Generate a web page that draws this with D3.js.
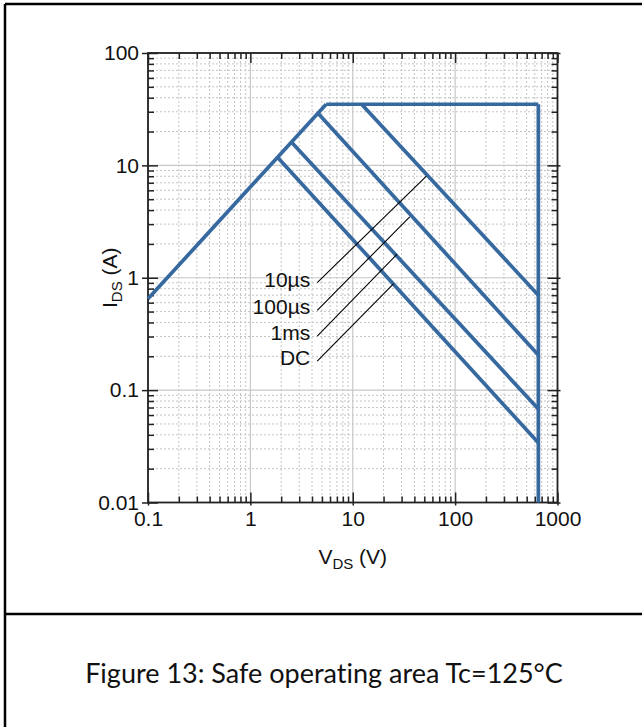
<!DOCTYPE html>
<html>
<head>
<meta charset="utf-8">
<script src="https://cdn.jsdelivr.net/npm/d3@7"></script>
<style>
  body { margin: 0; background: #fff; }
  svg { display: block; }
</style>
</head>
<body>
<script>
// axis ranges and tick labels
const xDomain = [0.1, 1000];
const yDomain = [0.01, 100];
const xTickLabels = ["0.1", "1", "10", "100", "1000"];
const yTickLabels = ["0.01", "0.1", "1", "10", "100"];

// SOA boundary: Rds(on) limit, current limit, voltage limit
const rdsLimit = [[0.1, 0.65], [5.5, 35]];
const currentLimit = [[5.5, 35], [650, 35]];
const voltageLimit = [[650, 35], [650, 0.01]];

// pulse-width limited lines
const pulse10us = [[12.2, 35], [650, 0.70]];
const pulse100us = [[4.6, 29], [650, 0.205]];
const pulse1ms = [[2.5, 16.2], [650, 0.068]];
const pulseDC = [[1.83, 11.9], [650, 0.034]];

// annotation labels and leader lines
const noteLabels = ["10\u00b5s", "100\u00b5s", "1ms", "DC"];
const noteStartV = [4.5, 4.5, 4.5, 4.5];
const noteStartI = [0.906, 0.513, 0.303, 0.181];
const noteEndV = [52.4, 36.0, 27.1, 25.1];
const noteEndI = [8.02, 3.48, 1.62, 0.887];

const caption = "Figure 13: Safe operating area Tc=125\u00b0C";

const W = 642, H = 727;
const margin = { left: 148, top: 53, right: 84.5, bottom: 224.5 };
const pw = W - margin.left - margin.right,
      ph = H - margin.top - margin.bottom;

const blue = "#36699f";
const font = "'Liberation Sans', Arial, sans-serif";
const fs = 21;

const svg = d3.select("body").append("svg")
    .attr("width", W)
    .attr("height", H);

// outer frame (right and bottom edges fall outside the picture)
svg.append("line").attr("x1", 5).attr("x2", W).attr("y1", 4).attr("y2", 4)
    .attr("stroke", "#000").attr("stroke-width", 2.5);
svg.append("line").attr("x1", 5).attr("x2", 5).attr("y1", 4).attr("y2", H)
    .attr("stroke", "#000").attr("stroke-width", 2.5);
svg.append("line").attr("x1", 5).attr("x2", W).attr("y1", 614).attr("y2", 614)
    .attr("stroke", "#000").attr("stroke-width", 2.5);

const g = svg.append("g")
    .attr("transform", `translate(${margin.left},${margin.top})`);

const x = d3.scaleLog().domain(xDomain).range([0, pw]);
const y = d3.scaleLog().domain(yDomain).range([ph, 0]);

const isMajor = v => Math.abs(Math.log10(v) - Math.round(Math.log10(v))) < 1e-6;
const xAll = x.ticks();
const yAll = y.ticks();
const xMinor = xAll.filter(v => !isMajor(v));
const yMinor = yAll.filter(v => !isMajor(v));
const xMajor = xAll.filter(isMajor);
const yMajor = yAll.filter(isMajor);

// grid: dotted minor, solid major
const grid = g.append("g");
grid.selectAll(".xmin").data(xMinor).join("line")
    .attr("x1", d => x(d)).attr("x2", d => x(d)).attr("y1", 0).attr("y2", ph)
    .attr("stroke", "#c4c4c4").attr("stroke-dasharray", "2,2");
grid.selectAll(".ymin").data(yMinor).join("line")
    .attr("y1", d => y(d)).attr("y2", d => y(d)).attr("x1", 0).attr("x2", pw)
    .attr("stroke", "#c4c4c4").attr("stroke-dasharray", "2,2");
grid.selectAll(".xmaj").data(xMajor).join("line")
    .attr("x1", d => x(d)).attr("x2", d => x(d)).attr("y1", 0).attr("y2", ph)
    .attr("stroke", "#c8c8c8").attr("stroke-width", 1.2);
grid.selectAll(".ymaj").data(yMajor).join("line")
    .attr("y1", d => y(d)).attr("y2", d => y(d)).attr("x1", 0).attr("x2", pw)
    .attr("stroke", "#c8c8c8").attr("stroke-width", 1.2);

// axes: inward ticks on all four sides
function styleAxis(sel) {
    sel.select(".domain").remove();
    sel.selectAll("line").attr("stroke", "#222").attr("stroke-width", 1.5);
    sel.selectAll("text").attr("font-family", font).attr("font-size", fs).attr("fill", "#111");
}

const tickLen = v => isMajor(v) ? 10 : 6;

const axBottom = g.append("g").attr("transform", `translate(0,${ph})`)
    .call(d3.axisBottom(x).tickValues(xAll).tickSize(0).tickPadding(9)
        .tickFormat(d => isMajor(d) ? xTickLabels[xMajor.indexOf(d)] : ""));
axBottom.selectAll(".tick line")
    .attr("y1", d => isMajor(d) ? 3 : 0)
    .attr("y2", d => -tickLen(d));
styleAxis(axBottom);

const axTop = g.append("g")
    .call(d3.axisTop(x).tickValues(xAll).tickSize(0).tickFormat(""));
axTop.selectAll(".tick line").attr("y2", d => tickLen(d));
styleAxis(axTop);

const axLeft = g.append("g")
    .call(d3.axisLeft(y).tickValues(yAll).tickSize(0).tickPadding(9)
        .tickFormat(d => isMajor(d) ? yTickLabels[yMajor.indexOf(d)] : ""));
axLeft.selectAll(".tick line")
    .attr("x1", d => isMajor(d) ? -6 : 0)
    .attr("x2", d => tickLen(d));
styleAxis(axLeft);

const axRight = g.append("g").attr("transform", `translate(${pw},0)`)
    .call(d3.axisRight(y).tickValues(yAll).tickSize(0).tickFormat(""));
axRight.selectAll(".tick line")
    .attr("x1", d => isMajor(d) ? 3 : 0)
    .attr("x2", d => -tickLen(d));
styleAxis(axRight);

// plot frame
g.append("rect").attr("width", pw).attr("height", ph)
    .attr("fill", "none").attr("stroke", "#222").attr("stroke-width", 1.8);

// curves
const line = d3.line().x(d => x(d[0])).y(d => y(d[1]));
const curves = [rdsLimit, currentLimit, voltageLimit, pulse10us, pulse100us, pulse1ms, pulseDC];
g.selectAll(".curve").data(curves).join("path")
    .attr("d", line)
    .attr("fill", "none")
    .attr("stroke", blue)
    .attr("stroke-width", 3.7)
    .attr("stroke-linejoin", "miter")
    .attr("stroke-linecap", "butt");

// leader lines + labels
noteLabels.forEach((lab, i) => {
    g.append("line")
        .attr("x1", x(noteStartV[i])).attr("y1", y(noteStartI[i]))
        .attr("x2", x(noteEndV[i])).attr("y2", y(noteEndI[i]))
        .attr("stroke", "#000").attr("stroke-width", 1.1);
    g.append("text")
        .attr("x", x(noteStartV[i]) - 7)
        .attr("y", y(noteStartI[i]) + 4)
        .attr("text-anchor", "end")
        .attr("font-family", font).attr("font-size", fs).attr("fill", "#111")
        .text(lab);
});

// axis titles
const xt = svg.append("text")
    .attr("x", margin.left + pw / 2).attr("y", 564)
    .attr("text-anchor", "middle")
    .attr("font-family", font).attr("font-size", fs).attr("fill", "#111");
xt.append("tspan").text("V");
xt.append("tspan").attr("font-size", 15).attr("dy", 5).text("DS");
xt.append("tspan").attr("dy", -5).text(" (V)");

const yt = svg.append("text")
    .attr("transform", `translate(117,${margin.top + ph / 2}) rotate(-90)`)
    .attr("text-anchor", "middle")
    .attr("font-family", font).attr("font-size", fs).attr("fill", "#111");
yt.append("tspan").text("I");
yt.append("tspan").attr("font-size", 15).attr("dy", 5).text("DS");
yt.append("tspan").attr("dy", -5).text(" (A)");

// caption
svg.append("text")
    .attr("x", 324).attr("y", 683)
    .attr("text-anchor", "middle")
    .attr("font-family", "Lato, 'Open Sans', sans-serif")
    .attr("font-size", 27).attr("fill", "#111")
    .style("font-variant-ligatures", "none")
    .text(caption);
</script>
</body>
</html>
